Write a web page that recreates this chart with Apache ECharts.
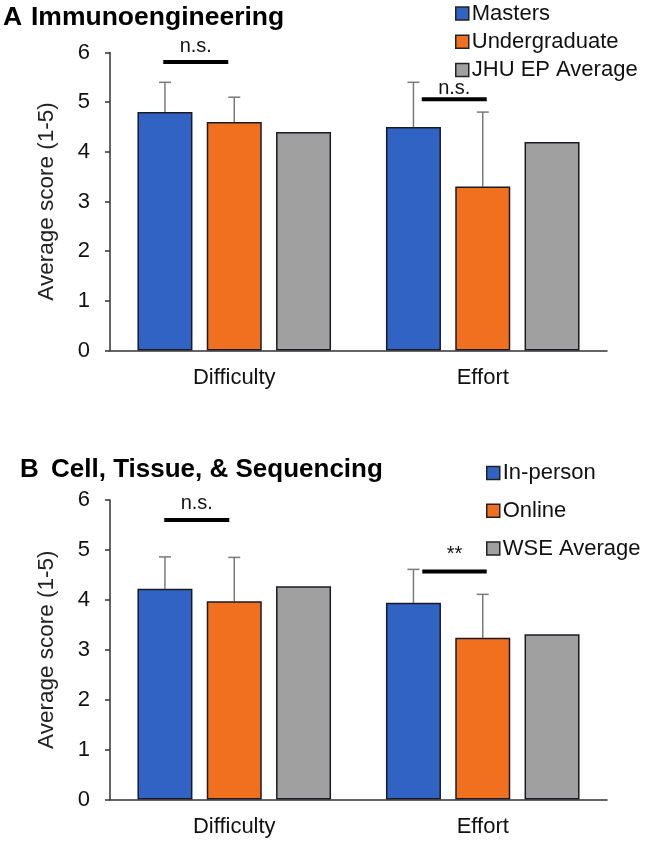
<!DOCTYPE html>
<html>
<head>
<meta charset="utf-8">
<script src="https://cdn.jsdelivr.net/npm/echarts@6/dist/echarts.min.js"></script>
<style>
html,body{margin:0;padding:0;background:#fff;}
#c{width:645px;height:842px;}
</style>
</head>
<body>
<div id="c"></div>
<script>
// ---------- DATA ----------
const categories = ['Difficulty', 'Effort'];
const yTicks = [0, 1, 2, 3, 4, 5, 6];

// Panel A: Immunoengineering
const namesA = ['Masters', 'Undergraduate', 'JHU EP Average'];
const mastersA = [4.8, 4.5];
const undergradA = [4.6, 3.3];
const jhuAvgA = [4.4, 4.2];
const mastersErrA = [0.6, 0.9];
const undergradErrA = [0.5, 1.5];
const sigLabelsA = ['n.s.', 'n.s.'];
const sigLineA = [5.81, 5.06];
const sigTextA = [6.13, 5.28];

// Panel B: Cell, Tissue, & Sequencing
const namesB = ['In-person', 'Online', 'WSE Average'];
const inPersonB = [4.22, 3.94];
const onlineB = [3.97, 3.24];
const wseAvgB = [4.27, 3.31];
const inPersonErrB = [0.64, 0.67];
const onlineErrB = [0.88, 0.87];
const sigLabelsB = ['n.s.', '**'];
const sigLineB = [5.6, 4.57];
const sigTextB = [5.94, 4.9];

// ---------- LAYOUT / STYLE ----------
const FONT = '"Liberation Sans", Arial, Helvetica, sans-serif';
const COLORS = ['#3163c4', '#f07020', '#a0a0a0'];
const BAR_W = 55;
const BAR_GAP = 14.3;
const STEP = BAR_W + BAR_GAP;
// pixel offsets of significance lines from category centre [x0, x1]
const sigOffA = [[-71, -6], [-61, 4]];
const sigOffB = [[-70, -5], [-60.5, 4]];

const chart = echarts.init(document.getElementById('c'), null, {renderer: 'canvas'});

function yAxisCfg(gi) {
  return {
    gridIndex: gi, type: 'value', min: 0, max: 6, interval: 1,
    name: 'Average score (1-5)', nameLocation: 'middle', nameGap: 52,
    nameTextStyle: {fontFamily: FONT, fontSize: 22.5, color: '#222'},
    axisLine: {show: true, lineStyle: {color: '#333', width: 1.5}},
    axisTick: {show: true, length: 5, lineStyle: {color: '#333', width: 1.5}},
    axisLabel: {fontFamily: FONT, fontSize: 22, color: '#111', margin: 20,
      formatter: v => yTicks.includes(v) ? String(v) : ''},
    splitLine: {show: false}
  };
}
function xAxisCfg(gi) {
  return {
    gridIndex: gi, type: 'category', data: categories,
    axisLine: {show: true, lineStyle: {color: '#333', width: 1.5}},
    axisTick: {show: false},
    axisLabel: {fontFamily: FONT, fontSize: 22, color: '#111', margin: 16},
    splitLine: {show: false}
  };
}
function barSeries(name, data, idx, gi) {
  return {
    name, type: 'bar', xAxisIndex: gi, yAxisIndex: gi, data,
    barWidth: BAR_W, barGap: (BAR_GAP / BAR_W * 100).toFixed(1) + '%',
    itemStyle: {color: COLORS[idx], borderColor: '#1a1a24', borderWidth: 1.5},
    z: 3
  };
}
function errSeries(means, errs, idx, gi) {
  const off = (idx - 1) * STEP;
  return {
    type: 'custom', xAxisIndex: gi, yAxisIndex: gi, clip: false, z: 2,
    data: means.map((m, i) => [i, m, errs[i]]),
    encode: {x: 0, y: 1},
    renderItem: (params, api) => {
      const c = api.value(0), m = api.value(1), e = api.value(2);
      const b = api.coord([c, m]);
      const t = api.coord([c, m + e]);
      const x = b[0] + off;
      const st = {stroke: '#7a7a7a', lineWidth: 1.5};
      return {type: 'group', children: [
        {type: 'line', shape: {x1: x, y1: b[1], x2: x, y2: t[1]}, style: st},
        {type: 'line', shape: {x1: x - 6, y1: t[1], x2: x + 6, y2: t[1]}, style: st}
      ]};
    }
  };
}
function sigSeries(lineVals, textVals, labels, offs, gi) {
  return {
    type: 'custom', xAxisIndex: gi, yAxisIndex: gi, clip: false, z: 5,
    data: lineVals.map((v, i) => [i, v, textVals[i]]),
    encode: {x: 0, y: 1},
    renderItem: (params, api) => {
      const i = params.dataIndex;
      const c = api.value(0);
      const pl = api.coord([c, api.value(1)]);
      const pt = api.coord([c, api.value(2)]);
      const o = offs[i];
      return {type: 'group', children: [
        {type: 'line', shape: {x1: pl[0] + o[0], y1: pl[1], x2: pl[0] + o[1], y2: pl[1]},
          style: {stroke: '#000', lineWidth: 4}},
        {type: 'text', style: {text: labels[i], x: pt[0] + (o[0] + o[1]) / 2, y: pt[1],
          align: 'center', verticalAlign: 'middle', fontFamily: FONT, fontSize: 20, fill: '#111'}}
      ]};
    }
  };
}
function legendCfg(names, left, top, gap) {
  return {
    data: names, orient: 'vertical', left, top, itemGap: gap, padding: 0,
    itemWidth: 13, itemHeight: 13, icon: 'rect',
    itemStyle: {borderColor: '#222', borderWidth: 1.5},
    textStyle: {fontFamily: FONT, fontSize: 22, lineHeight: 22, color: '#111', padding: [0, 0, 0, -2]},
    selectedMode: false
  };
}

const option = {
  animation: false,
  backgroundColor: '#fff',
  title: [
    {text: 'A', left: 3, top: 4, padding: 0, textStyle: {fontFamily: FONT, fontSize: 26.5, fontWeight: 'bold', color: '#000'}},
    {text: 'Immunoengineering', left: 31, top: 4, padding: 0, textStyle: {fontFamily: FONT, fontSize: 26.5, fontWeight: 'bold', color: '#000'}},
    {text: 'B', left: 20, top: 457, padding: 0, textStyle: {fontFamily: FONT, fontSize: 26, fontWeight: 'bold', color: '#000'}},
    {text: 'Cell, Tissue, & Sequencing', left: 51, top: 457, padding: 0, textStyle: {fontFamily: FONT, fontSize: 26, fontWeight: 'bold', color: '#000'}}
  ],
  legend: [
    legendCfg(namesA, 455, 2.5, 6.3),
    legendCfg(namesB, 486, 462, 15.8)
  ],
  grid: [
    {left: 110, right: 38, top: 52.5, bottom: 491.5},
    {left: 110, right: 38, top: 500, bottom: 42.5}
  ],
  xAxis: [xAxisCfg(0), xAxisCfg(1)],
  yAxis: [yAxisCfg(0), yAxisCfg(1)],
  series: [
    barSeries(namesA[0], mastersA, 0, 0),
    barSeries(namesA[1], undergradA, 1, 0),
    barSeries(namesA[2], jhuAvgA, 2, 0),
    errSeries(mastersA, mastersErrA, 0, 0),
    errSeries(undergradA, undergradErrA, 1, 0),
    sigSeries(sigLineA, sigTextA, sigLabelsA, sigOffA, 0),
    barSeries(namesB[0], inPersonB, 0, 1),
    barSeries(namesB[1], onlineB, 1, 1),
    barSeries(namesB[2], wseAvgB, 2, 1),
    errSeries(inPersonB, inPersonErrB, 0, 1),
    errSeries(onlineB, onlineErrB, 1, 1),
    sigSeries(sigLineB, sigTextB, sigLabelsB, sigOffB, 1)
  ]
};
chart.setOption(option);
</script>
</body>
</html>
